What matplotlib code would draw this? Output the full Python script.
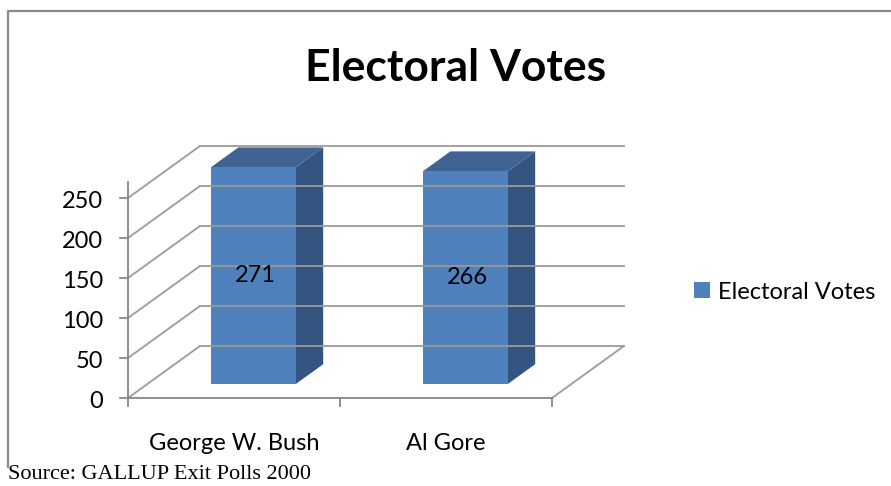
import matplotlib.pyplot as plt
from matplotlib.patches import Polygon, Patch
from matplotlib.lines import Line2D

categories = ['George W. Bush', 'Al Gore']
votes = [271, 266]
series_name = 'Electoral Votes'
yticks = [0, 50, 100, 150, 200, 250]
title = 'Electoral Votes'
source = 'Source: GALLUP Exit Polls 2000'

W, H = 891, 486
fig = plt.figure(figsize=(W / 100, H / 100), dpi=100)
# front plane of the 3d box
ax = fig.add_axes([128 / W, (H - 398) / H, 424 / W, 200 / H])
ax.set_xlim(0, len(categories))
ax.set_ylim(0, 250)
ax.axis('off')

DX, DY = 72, 52  # floor depth in pixels
grid_c = '#9a9a9a'
axis_c = '#868686'
front_c = '#4F81BD'
side_c = '#34557F'
top_c = '#3F6493'
font = 'Lato'
fs = 17


def P(x, v, f=0.0):
    px, py = ax.transData.transform((x, v))
    return (px + DX * f, py + DY * f)


def line(a, b, color=grid_c, lw=1.3):
    fig.add_artist(Line2D([a[0], b[0]], [a[1], b[1]], transform=None,
                          color=color, lw=lw))


n = len(categories)
# back wall gridlines and side wall diagonals
for v in yticks:
    line(P(0, v, 1), P(n, v, 1))
    line(P(0, v, 0), P(0, v, 1))
# floor
line(P(n, 0, 0), P(n, 0, 1))
line(P(0, 0, 0), P(n, 0, 0), color=axis_c)

# value axis
line(P(0, 0, 0), P(0, 270, 0), color=axis_c)
for v in yticks:
    a = P(0, v, 0)
    line((a[0] - 8, a[1]), a, color=axis_c)
    fig.text(a[0] - 25, a[1] - 3, str(v), transform=None, ha='right',
             va='center', fontsize=fs, family=font)

# category ticks and labels
for i in range(n + 1):
    a = P(i, 0, 0)
    line(a, (a[0], a[1] - 8), color=axis_c)
for i, c in enumerate(categories):
    a = P(i + 0.5, 0, 0)
    fig.text(a[0], a[1] - 45, c, transform=None, ha='center', va='center',
             fontsize=fs, family=font)

# bars
f0, f1, bw = 0.27, 0.65, 0.4
for i, v in enumerate(votes):
    x0, x1 = i + 0.5 - bw / 2, i + 0.5 + bw / 2
    side = [P(x1, 0, f0), P(x1, 0, f1), P(x1, v, f1), P(x1, v, f0)]
    top = [P(x0, v, f0), P(x1, v, f0), P(x1, v, f1), P(x0, v, f1)]
    front = [P(x0, 0, f0), P(x1, 0, f0), P(x1, v, f0), P(x0, v, f0)]
    for pts, c in [(side, side_c), (top, top_c), (front, front_c)]:
        fig.add_artist(Polygon(pts, closed=True, transform=None,
                               facecolor=c, edgecolor='none'))
    m = P(i + 0.5, v / 2, f0)
    fig.text(m[0] + 2, m[1], str(v), transform=None, ha='center',
             va='center', fontsize=fs, family=font)

# legend
fig.legend(handles=[Patch(facecolor=front_c)], labels=[series_name],
           loc='center left', bbox_to_anchor=(673 / W, 1 - 292 / H),
           frameon=False, handlelength=0.65, handleheight=0.65,
           handletextpad=0.35, prop={'family': font, 'size': fs})

# title, source, frame
fig.text(456 / W, 1 - 81 / H, title, ha='center', va='baseline',
         fontsize=32, fontweight='bold', family=font)
fig.text(8 / W, 1 - 479 / H, source, ha='left', va='baseline',
         fontsize=16, family='Liberation Serif')
fig.add_artist(Line2D([8, 8, W], [H - 467, H - 11, H - 11], transform=None,
                      color='#8a8a8a', lw=1.6))

fig.savefig('out.png', dpi=100)
